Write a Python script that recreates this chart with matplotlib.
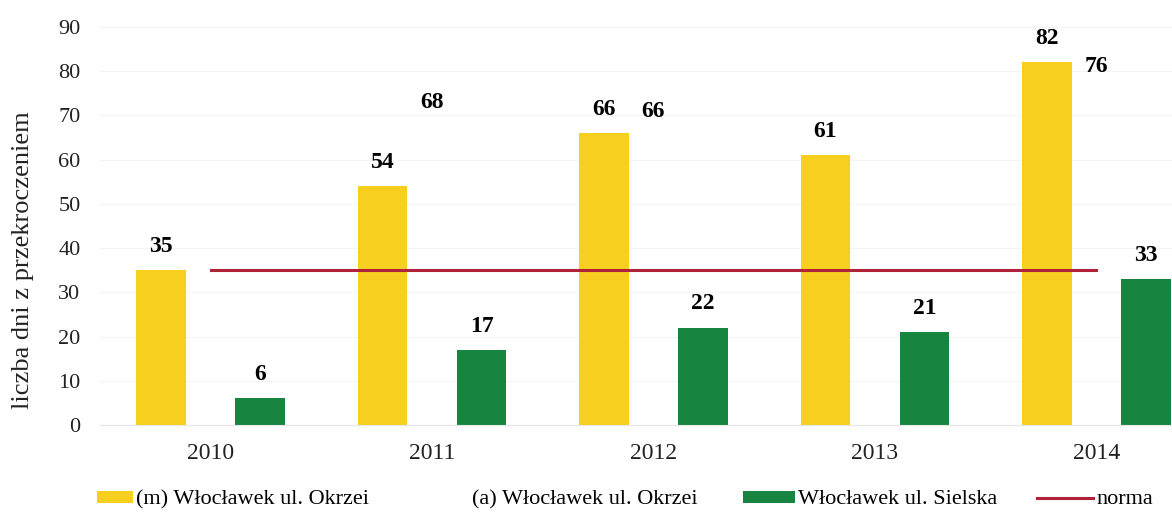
"""
Liczba dni z przekroczeniem - Włocławek, 2010-2014.
"""

import matplotlib.pyplot as plt
import numpy as np

years = ["2010", "2011", "2012", "2013", "2014"]
okrzei_m = [35, 54, 66, 61, 82]
okrzei_a = [None, 68, 66, None, 76]
sielska = [6, 17, 22, 21, 33]
norma = [35, 35, 35, 35, 35]

YELLOW = "#F6CF1F"
GREEN = "#17853F"
RED = "#B0213A"
BAR_W = 0.224
W, H = 1172, 516

plt.rcParams["font.family"] = ["Liberation Serif", "DejaVu Serif"]

fig = plt.figure(figsize=(W / 100, H / 100), dpi=100)
# right edge of the axes runs past the figure (the original is cropped)
ax = fig.add_axes([100 / W, 91 / H, 1107 / W, 398 / H])

x = np.arange(len(years))
a_vals = [v if v is not None else 0 for v in okrzei_a]

b_m = ax.bar(x - BAR_W, okrzei_m, BAR_W, color=YELLOW, label="(m) Włocławek ul. Okrzei", zorder=2)
b_a = ax.bar(x, a_vals, BAR_W, color="none", label="(a) Włocławek ul. Okrzei", zorder=1)
b_s = ax.bar(x + BAR_W, sielska, BAR_W, color=GREEN, label="Włocławek ul. Sielska", zorder=2)
(l_n,) = ax.plot(x, norma, color=RED, lw=2.2, label="norma", zorder=3)

lab_kw = dict(fontsize=17, fontweight="bold", ha="center", va="bottom")
for xi, v in zip(x - BAR_W, okrzei_m):
    ax.text(xi, v + 3, str(v), **lab_kw)
for xi, v in zip(x, okrzei_a):
    if v is not None:
        ax.text(xi, v + 2.6, str(v), **lab_kw)
for xi, v in zip(x + BAR_W, sielska):
    ax.text(xi, v + 3, str(v), **lab_kw)

ax.set_xlim(-0.5, 4.5)
ax.set_ylim(0, 90)
ax.set_yticks(range(0, 91, 10))
ax.set_xticks(x)
ax.set_xticklabels(years)
ax.tick_params(axis="both", length=0, labelsize=16, colors="#222222")
ax.tick_params(axis="x", labelsize=17, pad=13)
ax.tick_params(axis="y", pad=14)
ax.yaxis.grid(True, color="#f4f4f4", lw=0.8, zorder=0)
ax.set_axisbelow(True)
for side in ("top", "right", "left"):
    ax.spines[side].set_visible(False)
ax.spines["bottom"].set_color("#e6e6e6")

ax.set_ylabel("liczba dni z przekroczeniem", fontsize=19, color="#222222")
ax.yaxis.set_label_coords(-66 / 1107, 0.415)

# legend entries placed one by one, as in the original
leg_items = [
    (b_m, 97, 36 / 22.2),
    (b_a, 433, 36 / 22.2),
    (b_s, 743, 52 / 22.2),
    (l_n, 1037, 56 / 22.2),
]
for handle, left_px, hlen in leg_items:
    fig.legend(
        handles=[handle],
        loc="center left",
        bbox_to_anchor=(left_px / W, 16 / H),
        frameon=False,
        fontsize=16,
        borderpad=0,
        borderaxespad=0,
        handlelength=hlen,
        handleheight=0.45,
        handletextpad=0.15,
    )

fig.savefig("out.png", dpi=100)
